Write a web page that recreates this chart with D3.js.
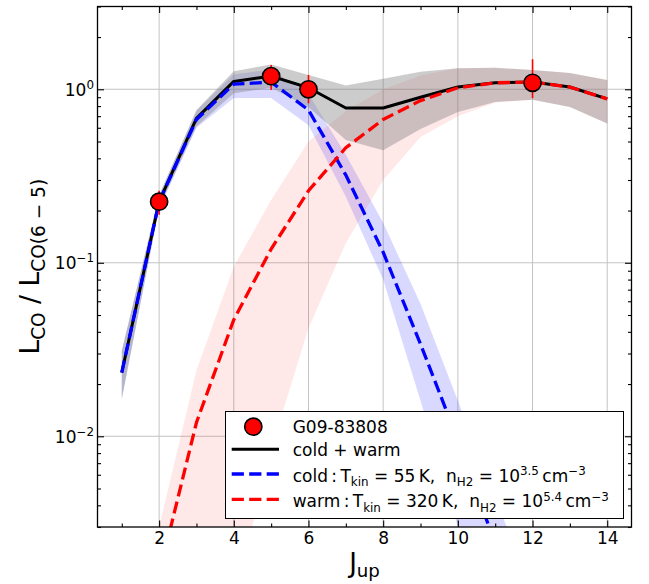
<!DOCTYPE html>
<html>
<head>
<meta charset="utf-8">
<script src="https://cdn.jsdelivr.net/npm/d3@7"></script>
<style>
  html, body { margin: 0; padding: 0; background: #fff; }
  svg { display: block; }
  text { font-family: "DejaVu Sans", sans-serif; fill: #000; white-space: pre; }
</style>
</head>
<body>
<svg id="chart" width="649" height="584"></svg>
<script>
// Upper rotational level of each CO transition
const jUp = [1, 2, 3, 4, 5, 6, 7, 8, 9, 10, 11, 12, 13, 14];

// Two-component LVG model, normalised to CO(6-5)
const coldWarm   = [0.0233, 0.225, 0.68, 1.11, 1.19, 1.02, 0.78, 0.78, 0.90, 1.03, 1.09, 1.10, 1.03, 0.88];
const coldWarmLo = [0.0164, 0.208, 0.61, 0.95, 1.02, 0.79, 0.51, 0.445, 0.59, 0.74, 0.846, 0.87, 0.79, 0.635];
const coldWarmHi = [0.031, 0.245, 0.76, 1.27, 1.39, 1.21, 1.05, 1.15, 1.26, 1.32, 1.33, 1.29, 1.24, 1.13];

const cold   = [0.0233, 0.225, 0.67, 1.07, 1.10, 0.76, 0.32, 0.115, 0.034, 0.0095, 0.0024, 0.0006, 0.00015, 0.00004];
const coldLo = [0.0164, 0.205, 0.60, 0.89, 0.89, 0.62, 0.24, 0.08, 0.016, 0.003, 0.0005, 0.0001, 0.00002, 0.000005];
const coldHi = [0.031, 0.245, 0.75, 1.22, 1.30, 0.94, 0.42, 0.17, 0.058, 0.016, 0.0045, 0.0012, 0.0003, 0.0001];

const warm   = [0.00015, 0.0016, 0.012, 0.047, 0.12, 0.26, 0.46, 0.67, 0.86, 1.02, 1.09, 1.10, 1.03, 0.88];
const warmLo = [0.000002, 0.00002, 0.0002, 0.0011, 0.0084, 0.042, 0.13, 0.30, 0.53, 0.70, 0.84, 0.87, 0.79, 0.635];
const warmHi = [0.0004, 0.003, 0.024, 0.095, 0.23, 0.50, 0.75, 1.00, 1.20, 1.32, 1.33, 1.29, 1.24, 1.13];

// Observed line ratios of G09-83808
const obsJ     = [2, 5, 6, 12];
const obsRatio = [0.225, 1.19, 1.00, 1.09];
const obsErrLo = [0.036, 0.20, 0.17, 0.20];
const obsErrHi = [0.035, 0.19, 0.21, 0.40];

// Axis ticks
const xMajor = [2, 4, 6, 8, 10, 12, 14];
const xMinor = [1, 3, 5, 7, 9, 11, 13];
const yMajor = [0.01, 0.1, 1];
const yMajorExp = ["−2", "−1", "0"];

const svg = d3.select("#chart");
const X0 = 97.5, X1 = 631.5, Y0 = 6.5, Y1 = 527;

const x = d3.scaleLinear().domain([0.35, 14.65]).range([X0, X1]);
const y = d3.scaleLog().domain([0.003, 3]).range([Y1, Y0]);

const yMinor = y.ticks().filter(v => !yMajor.some(m => Math.abs(m - v) / m < 1e-6));

// clip region for the data
svg.append("defs").append("clipPath").attr("id", "plotclip")
  .append("rect").attr("x", X0).attr("y", Y0).attr("width", X1 - X0).attr("height", Y1 - Y0);

// grid
const grid = svg.append("g").attr("stroke", "#c4c4c4").attr("stroke-width", 1);
grid.selectAll("line.gx").data(xMajor).join("line")
  .attr("x1", d => x(d)).attr("x2", d => x(d)).attr("y1", Y0).attr("y2", Y1);
grid.selectAll("line.gy").data(yMajor).join("line")
  .attr("x1", X0).attr("x2", X1).attr("y1", d => y(d)).attr("y2", d => y(d));

const plot = svg.append("g").attr("clip-path", "url(#plotclip)");

function band(lo, hi) {
  return d3.area()
    .x((d, i) => x(jUp[i]))
    .y0((d, i) => y(lo[i]))
    .y1((d, i) => y(hi[i]))(jUp);
}
function curve(vals) {
  return d3.line().x((d, i) => x(jUp[i])).y((d, i) => y(vals[i]))(jUp);
}

// uncertainty bands
plot.append("path").attr("d", band(coldLo, coldHi)).attr("fill", "#0000ff").attr("fill-opacity", 0.15);
plot.append("path").attr("d", band(warmLo, warmHi)).attr("fill", "#ff0000").attr("fill-opacity", 0.09);
plot.append("path").attr("d", band(coldWarmLo, coldWarmHi)).attr("fill", "#808080").attr("fill-opacity", 0.4);

// model curves
plot.append("path").attr("d", curve(coldWarm)).attr("fill", "none")
  .attr("stroke", "#000").attr("stroke-width", 3).attr("stroke-linejoin", "round");
plot.append("path").attr("d", curve(cold)).attr("fill", "none")
  .attr("stroke", "#0000ff").attr("stroke-width", 3.3).attr("stroke-dasharray", "12.2,5.3");
plot.append("path").attr("d", curve(warm)).attr("fill", "none")
  .attr("stroke", "#ff0000").attr("stroke-width", 3.3).attr("stroke-dasharray", "12.2,5.3");

// observed points with error bars
const obs = obsJ.map((j, i) => ({ j, v: obsRatio[i], lo: obsRatio[i] - obsErrLo[i], hi: obsRatio[i] + obsErrHi[i] }));
plot.selectAll("line.err").data(obs).join("line").attr("class", "err")
  .attr("x1", d => x(d.j)).attr("x2", d => x(d.j))
  .attr("y1", d => y(d.lo)).attr("y2", d => y(d.hi))
  .attr("stroke", "#ff0000").attr("stroke-width", 1.6);
plot.selectAll("circle.obs").data(obs).join("circle").attr("class", "obs")
  .attr("cx", d => x(d.j)).attr("cy", d => y(d.v)).attr("r", 8.6)
  .attr("fill", "#ff0000").attr("stroke", "#000").attr("stroke-width", 1.6);

// axes: inward ticks on all four sides
function styleAxis(g) {
  g.select(".domain").remove();
  g.selectAll(".tick line").attr("stroke", "#000").attr("stroke-width", 1.1);
}
svg.append("g").attr("transform", `translate(0,${Y1})`)
  .call(d3.axisBottom(x).tickValues(xMajor).tickSize(-6.5).tickPadding(5).tickFormat(d3.format("d")))
  .call(styleAxis)
  .call(g => g.selectAll("text").attr("font-size", 17).attr("font-family", "DejaVu Sans").attr("fill", "#000"));
svg.append("g").attr("transform", `translate(0,${Y1})`)
  .call(d3.axisBottom(x).tickValues(xMinor).tickSize(-3.5).tickFormat(""))
  .call(styleAxis);
svg.append("g").attr("transform", `translate(0,${Y0})`)
  .call(d3.axisTop(x).tickValues(xMajor).tickSize(-6.5).tickFormat(""))
  .call(styleAxis);
svg.append("g").attr("transform", `translate(0,${Y0})`)
  .call(d3.axisTop(x).tickValues(xMinor).tickSize(-3.5).tickFormat(""))
  .call(styleAxis);
svg.append("g").attr("transform", `translate(${X0},0)`)
  .call(d3.axisLeft(y).tickValues(yMajor).tickSize(-6.5).tickFormat(""))
  .call(styleAxis);
svg.append("g").attr("transform", `translate(${X0},0)`)
  .call(d3.axisLeft(y).tickValues(yMinor).tickSize(-3.5).tickFormat(""))
  .call(styleAxis);
svg.append("g").attr("transform", `translate(${X1},0)`)
  .call(d3.axisRight(y).tickValues(yMajor).tickSize(-6.5).tickFormat(""))
  .call(styleAxis);
svg.append("g").attr("transform", `translate(${X1},0)`)
  .call(d3.axisRight(y).tickValues(yMinor).tickSize(-3.5).tickFormat(""))
  .call(styleAxis);

// rich text helper: plain, subscript and superscript runs
function rich(text, parts, size, subShift = 0.26) {
  let cur = 0;
  parts.forEach(p => {
    const target = p.k === "sub" ? size * subShift : p.k === "sup" ? -size * 0.4 : 0;
    text.append("tspan")
      .attr("font-size", p.k ? size * 0.7 : size)
      .attr("dy", target - cur)
      .text(p.t);
    cur = target;
  });
  return text;
}

// y tick labels (powers of ten)
yMajor.forEach((v, i) => {
  const t = svg.append("text").attr("x", 94).attr("y", y(v) + 6.5).attr("text-anchor", "end");
  rich(t, [{ t: "10" }, { t: yMajorExp[i], k: "sup" }], 17);
});

// frame
svg.append("rect").attr("x", X0).attr("y", Y0).attr("width", X1 - X0).attr("height", Y1 - Y0)
  .attr("fill", "none").attr("stroke", "#000").attr("stroke-width", 1.3);

// axis titles
rich(svg.append("text").attr("x", (X0 + X1) / 2).attr("y", 572).attr("text-anchor", "middle"),
  [{ t: "J" }, { t: "up", k: "sub" }], 26, 0.2);
rich(svg.append("text").attr("transform", `translate(38.5,${(Y0 + Y1) / 2}) rotate(-90)`).attr("text-anchor", "middle"),
  [{ t: "L" }, { t: "CO", k: "sub" }, { t: " / L" }, { t: "CO(6 − 5)", k: "sub" }], 26.5);

// legend
const lg = svg.append("g");
lg.append("rect").attr("x", 225.5).attr("y", 411.5).attr("width", 398).attr("height", 107)
  .attr("fill", "#fff").attr("stroke", "#000").attr("stroke-width", 1);
lg.append("circle").attr("cx", 253.3).attr("cy", 426.7).attr("r", 8.6)
  .attr("fill", "#ff0000").attr("stroke", "#000").attr("stroke-width", 1.6);
const legendLines = [
  { yy: 449.3, color: "#000", dash: null },
  { yy: 474, color: "#0000ff", dash: "12.2,5.3" },
  { yy: 499.3, color: "#ff0000", dash: "12.2,5.3" }
];
legendLines.forEach(l => {
  lg.append("line").attr("x1", 231.7).attr("x2", 279).attr("y1", l.yy).attr("y2", l.yy)
    .attr("stroke", l.color).attr("stroke-width", l.dash ? 3.3 : 3)
    .attr("stroke-dasharray", l.dash);
});
const fs = 17;
rich(lg.append("text").attr("x", 292.7).attr("y", 433.3), [{ t: "G09-83808" }], fs);
rich(lg.append("text").attr("x", 292.7).attr("y", 456), [{ t: "cold + warm" }], fs);
rich(lg.append("text").attr("x", 292.7).attr("y", 481.7), [
  { t: "cold\u2009:\u2009T" }, { t: "kin", k: "sub" }, { t: " = 55\u2009K,  n" }, { t: "H2", k: "sub" },
  { t: " = 10" }, { t: "3.5", k: "sup" }, { t: "\u2009cm" }, { t: "−3", k: "sup" }
], fs);
rich(lg.append("text").attr("x", 292.7).attr("y", 507.3), [
  { t: "warm\u2009:\u2009T" }, { t: "kin", k: "sub" }, { t: " = 320\u2009K,  n" }, { t: "H2", k: "sub" },
  { t: " = 10" }, { t: "5.4", k: "sup" }, { t: "\u2009cm" }, { t: "−3", k: "sup" }
], fs);
</script>
</body>
</html>
